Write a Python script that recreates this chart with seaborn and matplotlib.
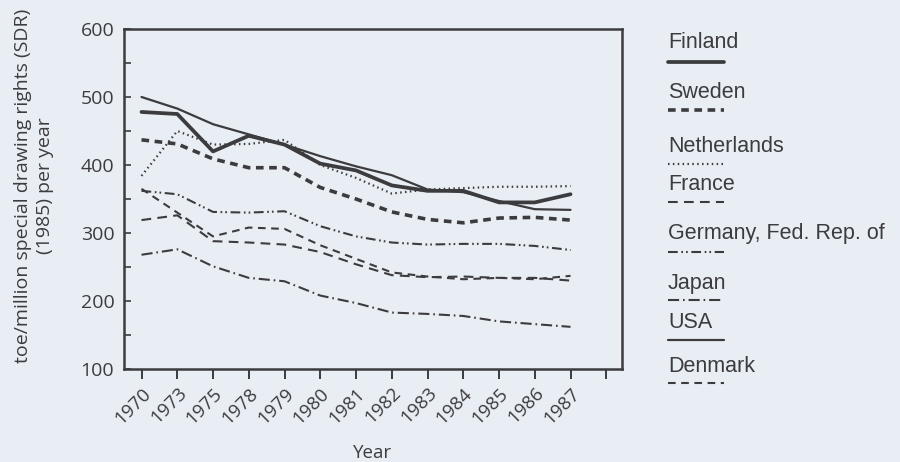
import numpy as np
import pandas as pd
import matplotlib
matplotlib.use("Agg")
import matplotlib.pyplot as plt
from matplotlib.lines import Line2D
import seaborn as sns

# Energy intensity, toe per million SDR (1985), by year
years = ["1970", "1973", "1975", "1978", "1979", "1980", "1981",
         "1982", "1983", "1984", "1985", "1986", "1987"]
finland = [478, 475, 420, 443, 430, 402, 392, 370, 362, 362, 345, 345, 357]
sweden = [437, 431, 409, 396, 396, 367, 350, 331, 320, 315, 322, 323, 319]
netherlands = [384, 450, 430, 431, 437, 400, 381, 358, 364, 366, 368, 368, 369]
france = [319, 326, 288, 286, 283, 272, 254, 238, 235, 236, 234, 234, 230]
germany = [362, 357, 331, 330, 332, 310, 295, 286, 283, 284, 284, 281, 275]
japan = [268, 276, 251, 234, 229, 208, 197, 183, 181, 178, 170, 166, 162]
usa = [500, 483, 460, 445, 430, 413, 398, 385, 364, 360, 347, 335, 334]
denmark = [365, 330, 295, 308, 306, 282, 262, 242, 236, 232, 234, 232, 237]

countries = ["Finland", "Sweden", "Netherlands", "France",
             "Germany, Fed. Rep. of", "Japan", "USA", "Denmark"]
series = [finland, sweden, netherlands, france, germany, japan, usa, denmark]

INK = "#3c3c3e"
BG = "#e9eef5"

# line style per country: (linewidth, linestyle)
styles = {
    "Finland": (2.7, "-"),
    "Sweden": (2.6, (0, (5.5, 4.0))),
    "Netherlands": (1.6, (0, (1.1, 2.4))),
    "France": (1.5, (0, (7.0, 4.5))),
    "Germany, Fed. Rep. of": (1.5, (0, (7.0, 2.6, 1.2, 2.2, 1.2, 2.6))),
    "Japan": (1.5, (0, (8.0, 2.8, 1.2, 2.8))),
    "USA": (1.6, "-"),
    "Denmark": (1.5, (0, (5.5, 4.0))),
}

sns.set_theme(style="white")
plt.rcParams["lines.scale_dashes"] = False
plt.rcParams["font.family"] = ["Open Sans", "DejaVu Sans"]

df = pd.concat(
    [pd.DataFrame({"pos": np.arange(len(years)), "year": years,
                   "value": vals, "country": name})
     for name, vals in zip(countries, series)],
    ignore_index=True)

W, H = 900, 462
fig = plt.figure(figsize=(W / 100, H / 100), dpi=100, facecolor=BG)
ax = fig.add_axes([124 / W, 1 - 369 / H, (622 - 124) / W, (369 - 29) / H])
ax.set_facecolor(BG)

for name in countries:
    lw, ls = styles[name]
    sub = df[df["country"] == name]
    sns.lineplot(data=sub, x="pos", y="value", ax=ax, color=INK,
                 linewidth=lw, linestyle=ls, legend=False)

ax.set_xlim(-0.49, 13.44)
ax.set_ylim(100, 600)

# x ticks: one per year plus a spare tick at the end
ax.set_xticks(np.arange(len(years) + 1))
ax.set_xticklabels(years + [""], rotation=45, ha="right", va="top",
                   rotation_mode="anchor", fontsize=13.5, color=INK)
ax.tick_params(axis="x", direction="out", length=7, width=1.4,
               color=INK, pad=4, bottom=True)

ax.set_yticks(np.arange(100, 601, 100))
ax.set_yticks(np.arange(150, 600, 100), minor=True)
ax.tick_params(axis="y", which="both", direction="in", length=5,
               width=1.2, color=INK, left=True)
ax.tick_params(axis="y", which="major", labelsize=14, labelcolor=INK, pad=7)

for s in ax.spines.values():
    s.set_color(INK)
    s.set_linewidth(1.8)

ax.set_xlabel("Year", fontsize=13.5, color=INK, labelpad=12)
ax.set_ylabel("toe/million special drawing rights (SDR)\n(1985) per year",
              fontsize=14, color=INK, linespacing=1.3)
ax.yaxis.set_label_coords(-0.14, 0.54)

# legend: name above a short sample of each line style
text_y = [42, 93, 146, 185, 234, 283, 322, 366]
line_y = [62, 110, 164, 202, 252, 300, 340, 383]
for name, ty, ly in zip(countries, text_y, line_y):
    lw, ls = styles[name]
    fig.text(668 / W, 1 - ty / H, name, fontsize=15.5, color=INK,
             ha="left", va="center", family=["Liberation Sans", "DejaVu Sans"])
    fig.add_artist(Line2D([668 / W, 724 / W], [1 - ly / H, 1 - ly / H],
                          transform=fig.transFigure, color=INK,
                          linewidth=lw, linestyle=ls))

fig.savefig("out.png", dpi=100, facecolor=BG)
